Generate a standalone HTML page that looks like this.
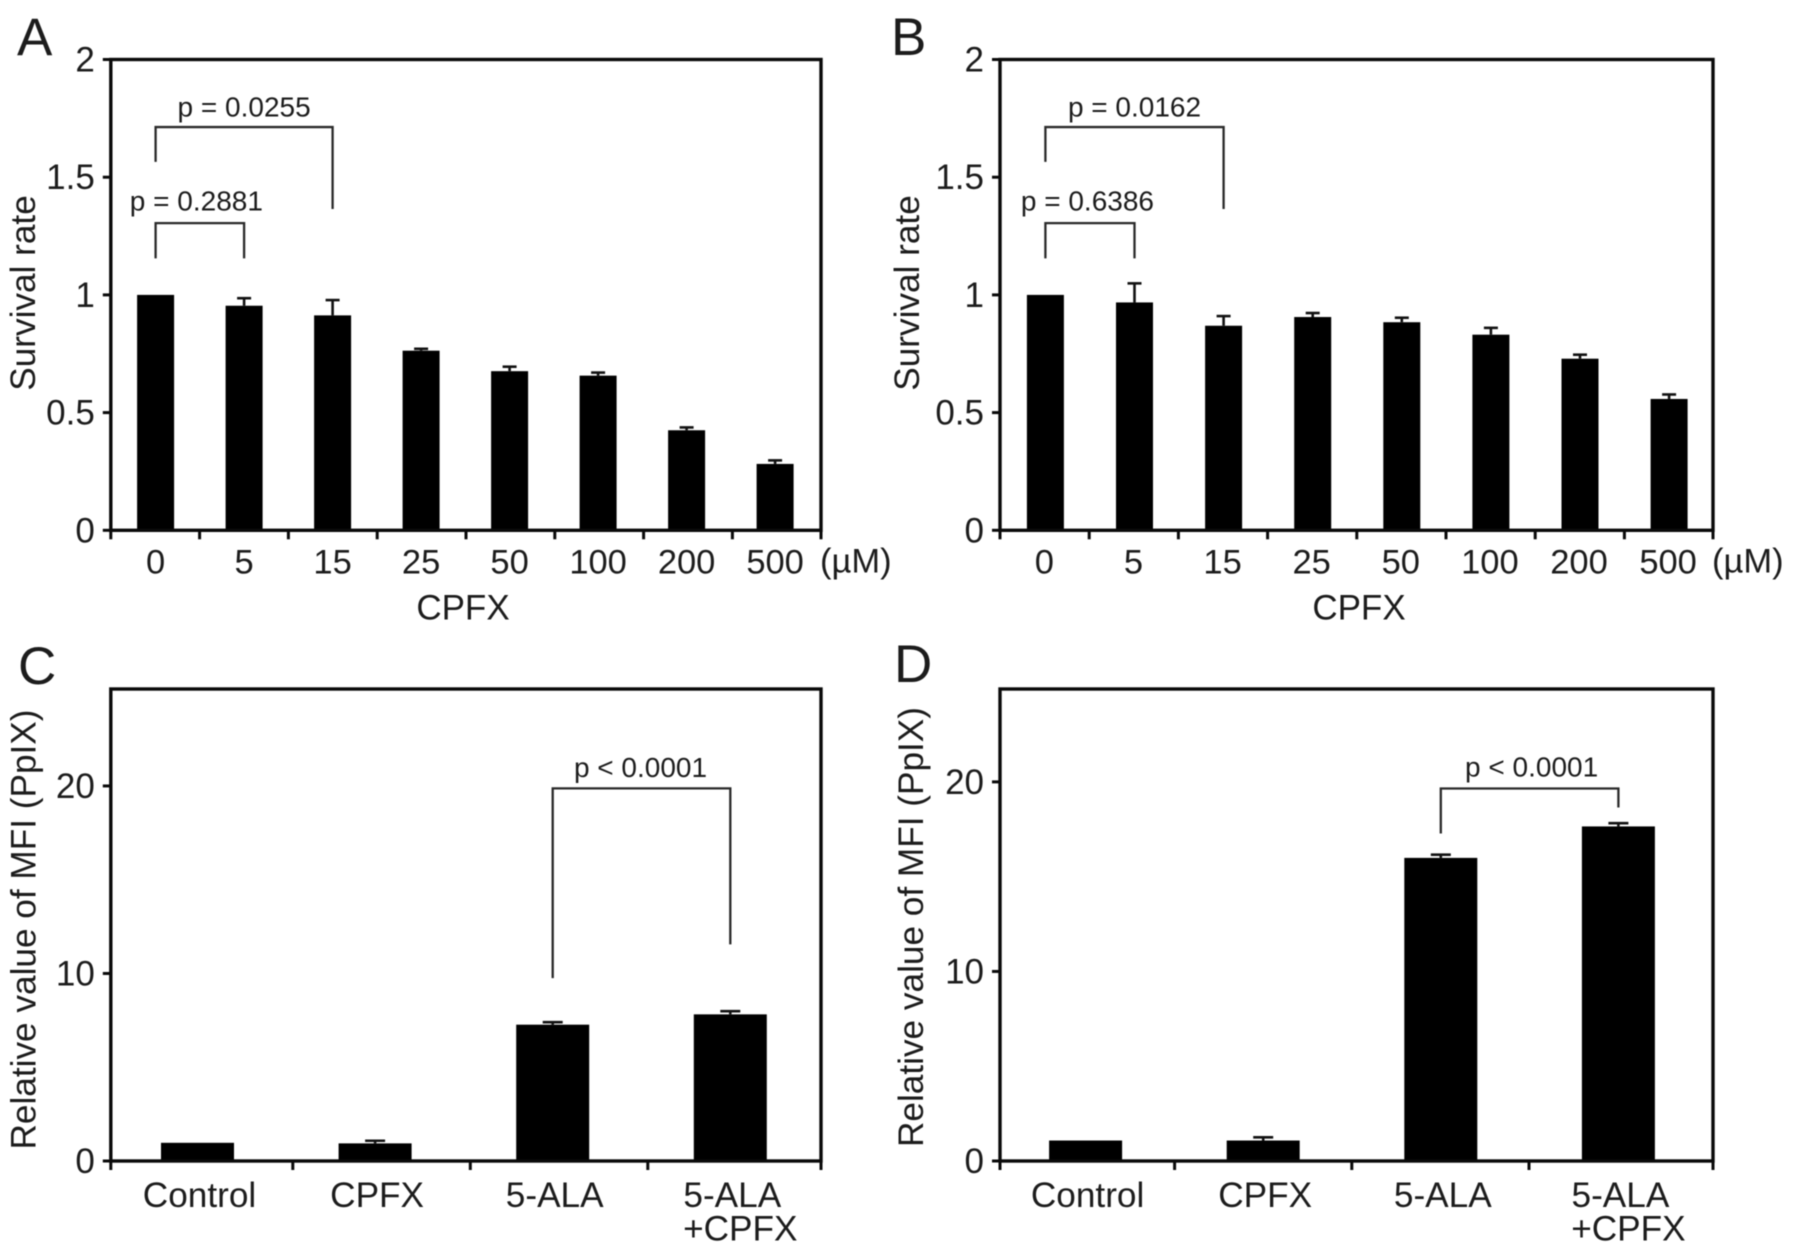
<!DOCTYPE html>
<html lang="en">
<head>
<meta charset="utf-8">
<title>Survival rate and PpIX MFI panels</title>
<style>
  html, body { margin: 0; padding: 0; background: #fff; }
  svg { display: block; filter: blur(0.55px); }
  text { font-family: "Liberation Sans", Arial, sans-serif; fill: #1c1c1c; }
</style>
</head>
<body>
<svg id="figure" xmlns="http://www.w3.org/2000/svg" width="1795" height="1254" viewBox="0 0 1795 1254"></svg>
<script>
// ---- Panel A data ----
const panelACategories = ["0", "5", "15", "25", "50", "100", "200", "500"];
const panelAValues = [1, 0.954, 0.913, 0.763, 0.676, 0.657, 0.425, 0.282];
const panelAErrors = [0, 0.032, 0.065, 0.008, 0.019, 0.013, 0.012, 0.015];
const panelABracketFrom = [0, 0];
const panelABracketTo = [2, 1];
const panelABracketTops = [1.713, 1.305];
const panelABracketLeftFeet = [1.565, 1.155];
const panelABracketRightFeet = [1.365, 1.155];
const panelABracketLabels = ["p = 0.0255", "p = 0.2881"];

// ---- Panel B data ----
const panelBCategories = ["0", "5", "15", "25", "50", "100", "200", "500"];
const panelBValues = [1, 0.968, 0.869, 0.906, 0.884, 0.831, 0.729, 0.558];
const panelBErrors = [0, 0.081, 0.041, 0.017, 0.019, 0.029, 0.017, 0.019];
const panelBBracketFrom = [0, 0];
const panelBBracketTo = [2, 1];
const panelBBracketTops = [1.713, 1.305];
const panelBBracketLeftFeet = [1.565, 1.155];
const panelBBracketRightFeet = [1.365, 1.155];
const panelBBracketLabels = ["p = 0.0162", "p = 0.6386"];

// ---- Panel C data ----
const panelCCategories = ["Control", "CPFX", "5-ALA", "5-ALA|+CPFX"];
const panelCValues = [0.97, 0.94, 7.27, 7.82];
const panelCErrors = [0, 0.14, 0.13, 0.17];
const panelCBracketFrom = [2];
const panelCBracketTo = [3];
const panelCBracketTops = [19.87];
const panelCBracketLeftFeet = [9.75];
const panelCBracketRightFeet = [11.55];
const panelCBracketLabels = ["p < 0.0001"];

// ---- Panel D data ----
const panelDCategories = ["Control", "CPFX", "5-ALA", "5-ALA|+CPFX"];
const panelDValues = [1.08, 1.08, 15.99, 17.65];
const panelDErrors = [0, 0.17, 0.17, 0.17];
const panelDBracketFrom = [2];
const panelDBracketTo = [3];
const panelDBracketTops = [19.65];
const panelDBracketLeftFeet = [17.28];
const panelDBracketRightFeet = [18.65];
const panelDBracketLabels = ["p < 0.0001"];

// ---- Axis tick data ----
const survivalTicks = [0, 0.5, 1, 1.5, 2];
const survivalTickLabels = ["0", "0.5", "1", "1.5", "2"];
const mfiTicks = [0, 10, 20];
const mfiTickLabels = ["0", "10", "20"];

const svg = document.getElementById('figure');
const NS = 'http://www.w3.org/2000/svg';
const INK = '#0a0a0a';

function make(tag, attrs, parent, content) {
  const el = document.createElementNS(NS, tag);
  for (const k in attrs) el.setAttribute(k, attrs[k]);
  if (content !== undefined) el.textContent = content;
  parent.appendChild(el);
  return el;
}

function drawPanel(cfg) {
  const g = make('g', {}, svg);
  
  

  const yScale = v => cfg.bottom - (v / cfg.yMax) * (cfg.bottom - cfg.top);
  const xScale = i => cfg.firstCenter + i * cfg.step;

  const letter = make('text', { x: cfg.letterX, y: cfg.letterY, 'font-size': 53 }, g, cfg.letter);
  
  

  // bars and error bars
  cfg.values.forEach((v, i) => {
    const bar = make('rect', {
      x: xScale(i) - cfg.barWidth / 2, y: yScale(v),
      width: cfg.barWidth, height: cfg.bottom - yScale(v), fill: '#000'
    }, g);
    
    

    if (cfg.errors[i] > 0) {
      const top = yScale(v + cfg.errors[i]);
      const stem = make('line', {
        x1: xScale(i), x2: xScale(i), y1: yScale(v), y2: top,
        stroke: '#111', 'stroke-width': 2.6
      }, g);
      
      
      const cap = make('line', {
        x1: xScale(i) - cfg.capWidth / 2, x2: xScale(i) + cfg.capWidth / 2, y1: top, y2: top,
        stroke: '#111', 'stroke-width': 2.6
      }, g);
      
      
    }
  });

  // plot frame
  const frame = make('rect', {
    x: cfg.left, y: cfg.top, width: cfg.right - cfg.left, height: cfg.bottom - cfg.top,
    fill: 'none', stroke: INK, 'stroke-width': 3.4
  }, g);
  
  

  // y ticks
  cfg.yTicks.forEach((t, i) => {
    const tick = make('line', {
      x1: cfg.left - 8, x2: cfg.left, y1: yScale(t), y2: yScale(t),
      stroke: INK, 'stroke-width': 3
    }, g);
    
    
    const label = make('text', {
      x: cfg.left - 16, y: yScale(t) + 12, 'font-size': 35, 'text-anchor': 'end'
    }, g, cfg.yTickLabels[i]);
    
    
  });

  // x ticks (frame ends plus interior ticks)
  for (let i = 0; i <= cfg.categories.length; i++) {
    let tx = cfg.tickOrigin + i * cfg.tickStep;
    if (i === 0) tx = cfg.left;
    if (i === cfg.categories.length) tx = cfg.right;
    const tick = make('line', {
      x1: tx, x2: tx, y1: cfg.bottom, y2: cfg.bottom + 9,
      stroke: INK, 'stroke-width': 3
    }, g);
    
    
  }

  // category labels
  cfg.categories.forEach((c, i) => {
    const parts = c.split('|');
    const label = make('text', {
      x: xScale(i) + cfg.labelDx, y: cfg.labelY, 'font-size': cfg.labelSize, 'text-anchor': 'middle'
    }, g, parts[0]);
    
    
    if (parts[1]) {
      const second = make('text', {
        x: xScale(i) + cfg.labelDx + 8, y: cfg.labelY + 33.5, 'font-size': cfg.labelSize, 'text-anchor': 'middle'
      }, g, parts[1]);
      
      
    }
  });

  // unit label and x title
  if (cfg.xUnit) {
    const unit = make('text', { x: cfg.right - 1, y: cfg.labelY - 1, 'font-size': 34.5 }, g, cfg.xUnit);
    
    
  }
  if (cfg.xTitle) {
    const xt = make('text', {
      x: cfg.xTitleX, y: 619.5, 'font-size': 35, 'text-anchor': 'middle'
    }, g, cfg.xTitle);
    
    
  }

  // y title
  const yt = make('text', {
    transform: 'translate(' + cfg.yTitleX + ',' + cfg.yTitleY + ') rotate(-90)',
    'font-size': 35.2, 'text-anchor': 'middle', fill: '#2a2a2a'
  }, g, cfg.yTitle);
  
  

  // significance brackets
  cfg.bracketLabels.forEach((txt, i) => {
    const x1 = xScale(cfg.bracketFrom[i]);
    const x2 = xScale(cfg.bracketTo[i]);
    const d = 'M' + x1 + ' ' + yScale(cfg.bracketLeftFeet[i]) +
              'V' + yScale(cfg.bracketTops[i]) +
              'H' + x2 +
              'V' + yScale(cfg.bracketRightFeet[i]);
    const br = make('path', { d: d, fill: 'none', stroke: '#2a2a2a', 'stroke-width': 2.3 }, g);
    
    
    const lab = make('text', {
      x: (x1 + x2) / 2 + cfg.pLabelNudgeX[i],
      y: yScale(cfg.bracketTops[i]) - 10.5 + cfg.pLabelNudgeY[i],
      'font-size': 28, 'text-anchor': 'middle'
    }, g, txt);
    
    
  });
}

drawPanel({
  letter: 'A', letterX: 17, letterY: 55,
  left: 110.8, right: 821, top: 59.5, bottom: 530.3, yMax: 2,
  firstCenter: 155.6, step: 88.5, barWidth: 37, capWidth: 14,
  tickOrigin: 110.8, tickStep: 88.8,
  categories: panelACategories, values: panelAValues, errors: panelAErrors,
  yTicks: survivalTicks, yTickLabels: survivalTickLabels,
  labelY: 573.5, labelSize: 34.5, labelDx: 0,
  xUnit: '(\u00B5M)', xTitle: 'CPFX', xTitleX: 463,
  yTitle: 'Survival rate', yTitleX: 35, yTitleY: 293,
  bracketFrom: panelABracketFrom, bracketTo: panelABracketTo, bracketTops: panelABracketTops,
  bracketLeftFeet: panelABracketLeftFeet, bracketRightFeet: panelABracketRightFeet,
  bracketLabels: panelABracketLabels, pLabelNudgeX: [0, -3.5], pLabelNudgeY: [0, -2]
});

drawPanel({
  letter: 'B', letterX: 891, letterY: 55,
  left: 1000, right: 1713, top: 59.5, bottom: 530.3, yMax: 2,
  firstCenter: 1045.4, step: 89.1, barWidth: 37, capWidth: 14,
  tickOrigin: 1000, tickStep: 89.2,
  categories: panelBCategories, values: panelBValues, errors: panelBErrors,
  yTicks: survivalTicks, yTickLabels: survivalTickLabels,
  labelY: 573.5, labelSize: 34.5, labelDx: -1,
  xUnit: '(\u00B5M)', xTitle: 'CPFX', xTitleX: 1359,
  yTitle: 'Survival rate', yTitleX: 919, yTitleY: 293,
  bracketFrom: panelBBracketFrom, bracketTo: panelBBracketTo, bracketTops: panelBBracketTops,
  bracketLeftFeet: panelBBracketLeftFeet, bracketRightFeet: panelBBracketRightFeet,
  bracketLabels: panelBBracketLabels, pLabelNudgeX: [0, -2.5], pLabelNudgeY: [0, -2]
});

drawPanel({
  letter: 'C', letterX: 18, letterY: 684,
  left: 110.8, right: 821, top: 689, bottom: 1161, yMax: 25.17,
  firstCenter: 197.5, step: 177.6, barWidth: 73, capWidth: 20,
  tickOrigin: 115.3, tickStep: 177.5,
  categories: panelCCategories, values: panelCValues, errors: panelCErrors,
  yTicks: mfiTicks, yTickLabels: mfiTickLabels,
  labelY: 1207, labelSize: 35.2, labelDx: 2,
  xUnit: '', xTitle: '', xTitleX: 0,
  yTitle: 'Relative value of MFI (PpIX)', yTitleX: 35.5, yTitleY: 929.5,
  bracketFrom: panelCBracketFrom, bracketTo: panelCBracketTo, bracketTops: panelCBracketTops,
  bracketLeftFeet: panelCBracketLeftFeet, bracketRightFeet: panelCBracketRightFeet,
  bracketLabels: panelCBracketLabels, pLabelNudgeX: [-1], pLabelNudgeY: [-1]
});

drawPanel({
  letter: 'D', letterX: 894, letterY: 682,
  left: 1000, right: 1713, top: 689, bottom: 1161, yMax: 24.9,
  firstCenter: 1085.6, step: 177.6, barWidth: 73, capWidth: 20,
  tickOrigin: 997.4, tickStep: 177.2,
  categories: panelDCategories, values: panelDValues, errors: panelDErrors,
  yTicks: mfiTicks, yTickLabels: mfiTickLabels,
  labelY: 1207, labelSize: 35.2, labelDx: 2,
  xUnit: '', xTitle: '', xTitleX: 0,
  yTitle: 'Relative value of MFI (PpIX)', yTitleX: 923, yTitleY: 927,
  bracketFrom: panelDBracketFrom, bracketTo: panelDBracketTo, bracketTops: panelDBracketTops,
  bracketLeftFeet: panelDBracketLeftFeet, bracketRightFeet: panelDBracketRightFeet,
  bracketLabels: panelDBracketLabels, pLabelNudgeX: [2], pLabelNudgeY: [-1.5]
});
</script>
</body>
</html>
